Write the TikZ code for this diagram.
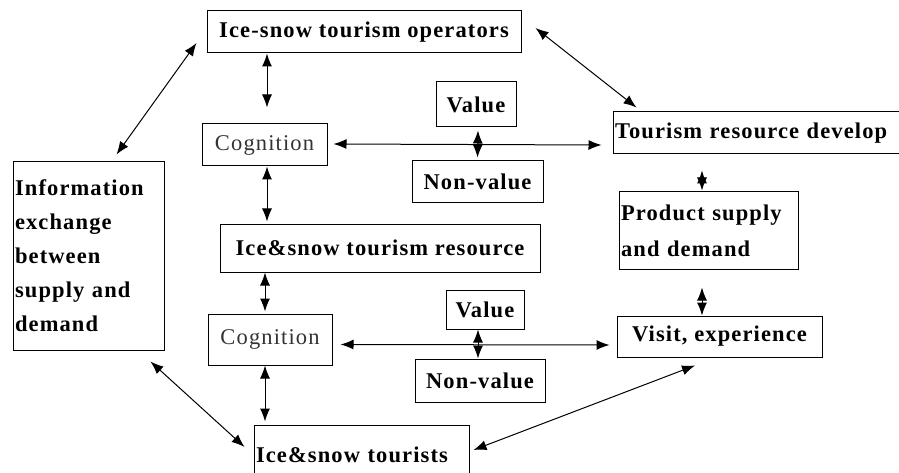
\documentclass[tikz,border=0pt]{standalone}
\usepackage{fontspec}
\setmainfont{Liberation Serif}[LetterSpace=5]
\usepackage{tikz}
\usetikzlibrary{arrows.meta}
\newcommand{\boxfont}{\fontsize{22.5}{34}\selectfont}
\tikzset{
  box/.style={draw, rectangle, line width=1pt, inner sep=2pt, font=\boxfont\bfseries},
  cogbox/.style={draw, rectangle, line width=1pt, inner sep=2pt, font=\boxfont, text=black!80},
  link/.style={{Latex[length=13pt,width=10pt]}-{Latex[length=13pt,width=10pt]}, line width=1pt}
}

\begin{document}
\begin{tikzpicture}[x=1pt, y=-1pt, font=\boxfont]
    \useasboundingbox (0, 0) rectangle (899, 473);

    \node (op) [box, minimum width=314pt, minimum height=42pt] at (364, 32) {Ice-snow tourism operators};
    \node (cog1) [cogbox, minimum width=125pt, minimum height=42pt] at (264.5, 145) {Cognition};
    \node (val1) [box, minimum width=80pt, minimum height=45pt] at (476, 104.5) {Value};
    \node (nv1) [box, minimum width=131pt, minimum height=42pt] at (477.5, 182) {Non-value};
    \node (tour) [box, text width=286pt, align=left, minimum height=42pt] at (758, 133) {Tourism resource develop};
    \node (prod) [box, text width=175pt, align=left, minimum height=77pt] at (708.5, 230.5) {Product supply\\[2pt]and demand};
    \node (info) [box, text width=147pt, align=left, minimum height=188pt] at (88.5, 256) {Information\\exchange\\between\\supply and\\demand};
    \node (res) [box, minimum width=320pt, minimum height=48pt] at (380, 248) {Ice\&snow tourism resource};
    \node (cog2) [cogbox, minimum width=124pt, minimum height=51pt] at (270, 339.5) {Cognition};
    \node (val2) [box, minimum width=78pt, minimum height=39pt] at (485, 309.5) {Value};
    \node (nv2) [box, minimum width=130pt, minimum height=43pt] at (480, 380.5) {Non-value};
    \node (visit) [box, minimum width=205pt, minimum height=41pt] at (719.5, 336.5) {Visit, experience};
    \node (tourists) [box, text width=211pt, align=left, minimum height=60pt] at (361.5, 455) {Ice\&snow tourists};

    % upper chain
    \draw[link] ([xshift=-97pt]op.south) -- ([xshift=2.5pt, yshift=16pt]cog1.north);
    \draw[link] ([xshift=-48pt, yshift=7pt]info.north east) -- ([xshift=-10pt, yshift=-11pt]op.west);
    \draw[link] ([xshift=14pt, yshift=4pt]op.east) -- ([xshift=24pt, yshift=4pt]tour.north west);
    \draw[link] ([xshift=6pt, yshift=1pt]cog1.east) -- ([xshift=-11pt]cog1.east -| tour.west);
    \draw[link] ([xshift=2pt, yshift=-3pt]val1.south) -- ([yshift=3pt]nv1.north);
    \draw[link] ([xshift=-56pt, yshift=-16pt]tour.south) -- ([xshift=-6.5pt, yshift=1pt]prod.north);

    % lower chain
    \draw[link] ([xshift=2.5pt]cog1.south) -- ([xshift=-113pt, yshift=2pt]res.north);
    \draw[link] ([xshift=-115pt]res.south) -- ([xshift=-5pt, yshift=2pt]cog2.north);
    \draw[link] ([xshift=-5pt]cog2.south) -- ([xshift=-96.5pt, yshift=3pt]tourists.north);
    \draw[link] ([xshift=-14pt, yshift=-11pt]info.south east) -- ([xshift=-9pt, yshift=8pt]tourists.west);
    \draw[link] ([xshift=-7pt]val2.south) -- ([xshift=-2pt]nv2.north);
    \draw[link] ([xshift=8pt, yshift=-5pt]cog2.east) -- ([xshift=-7pt, yshift=-8.5pt]visit.west);
    \draw[link] ([xshift=-6.5pt, yshift=-18pt]prod.south) -- ([xshift=-17.5pt]visit.north);
    \draw[link] ([xshift=-24.5pt, yshift=-8pt]visit.south) -- ([xshift=4pt, yshift=5pt]tourists.east);
\end{tikzpicture}
\end{document}
